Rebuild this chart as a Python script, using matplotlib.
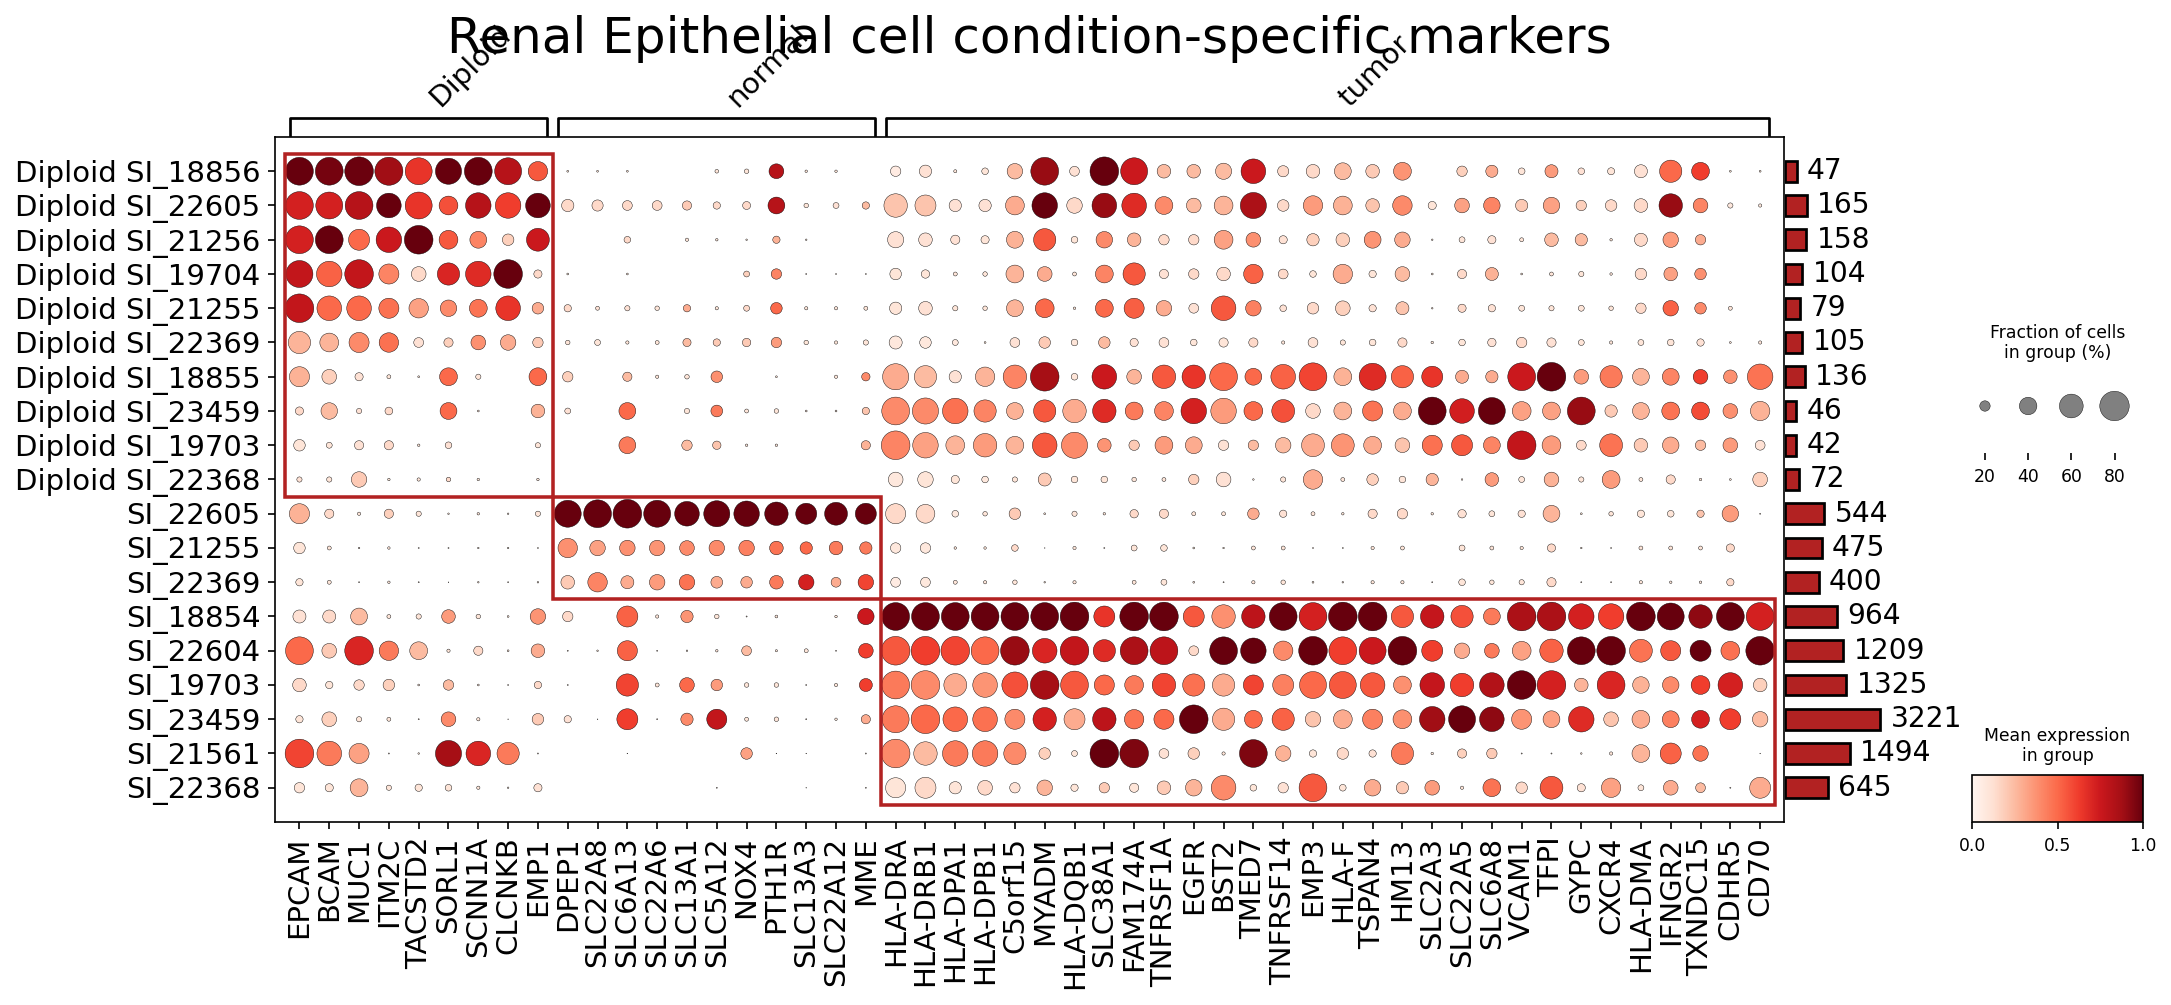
import numpy as np
import matplotlib
matplotlib.use("Agg")
import matplotlib.pyplot as plt
from matplotlib.patches import Rectangle
from matplotlib.colors import Normalize
from matplotlib import cm

# ---------------- data ----------------
title = "Renal Epithelial cell condition-specific markers"

genes = ['EPCAM', 'BCAM', 'MUC1', 'ITM2C', 'TACSTD2', 'SORL1', 'SCNN1A', 'CLCNKB', 'EMP1',
         'DPEP1', 'SLC22A8', 'SLC6A13', 'SLC22A6', 'SLC13A1', 'SLC5A12', 'NOX4', 'PTH1R',
         'SLC13A3', 'SLC22A12', 'MME',
         'HLA-DRA', 'HLA-DRB1', 'HLA-DPA1', 'HLA-DPB1', 'C5orf15', 'MYADM', 'HLA-DQB1',
         'SLC38A1', 'FAM174A', 'TNFRSF1A', 'EGFR', 'BST2', 'TMED7', 'TNFRSF14', 'EMP3',
         'HLA-F', 'TSPAN4', 'HM13', 'SLC2A3', 'SLC22A5', 'SLC6A8', 'VCAM1', 'TFPI', 'GYPC',
         'CXCR4', 'HLA-DMA', 'IFNGR2', 'TXNDC15', 'CDHR5', 'CD70']

groups = ['Diploid SI_18856', 'Diploid SI_22605', 'Diploid SI_21256', 'Diploid SI_19704',
          'Diploid SI_21255', 'Diploid SI_22369', 'Diploid SI_18855', 'Diploid SI_23459',
          'Diploid SI_19703', 'Diploid SI_22368', 'SI_22605', 'SI_21255', 'SI_22369',
          'SI_18854', 'SI_22604', 'SI_19703', 'SI_23459', 'SI_21561', 'SI_22368']

cell_counts = [47, 165, 158, 104, 79, 105, 136, 46, 42, 72, 544, 475, 400,
               964, 1209, 1325, 3221, 1494, 645]

gene_group_labels = ['Diploid', 'normal', 'tumor']
gene_group_spans = [(0, 8), (9, 19), (20, 49)]
highlight_rows = [(0, 9), (10, 12), (13, 18)]

# fraction of cells expressing (%)
frac_pct = [
    [74, 74, 77, 75, 71, 68, 74, 71, 46, 2, 2, 2, 0, 0, 5, 6.6, 32, 3, 3, 0,
     20, 25, 4, 11, 34, 74, 18.5, 77, 71, 28.6, 28.6, 36, 63, 22, 28.6, 38, 28.6, 41, 0, 20,
     24.5, 11, 27, 11, 12, 27, 55, 41, 2, 2],
    [74, 71, 74, 63, 71, 44, 66, 66, 63, 25, 22, 18.5, 18.5, 17, 12.5, 14, 38, 6.6, 9.4, 12.5,
     59, 51, 25, 25, 44, 66, 34, 63, 63, 41, 31.7, 44, 68, 23, 46, 44, 28.6, 46, 14.5, 31.7,
     37, 25, 37, 20, 23, 28.6, 59, 31.7, 8, 4.3],
    [74, 74, 51, 66, 77, 44, 38, 23, 57, 0, 0, 11, 0, 4.3, 3, 1.6, 12.5, 1.6, 0, 0,
     36, 28.6, 17, 14.5, 38, 55, 11, 37, 28.6, 20, 20, 44, 31.7, 14.5, 25, 28.6, 38, 34, 1.6, 9.4,
     14.5, 5.5, 28.6, 25, 3, 27, 34, 20, 0, 0],
    [71, 66, 77, 48, 31.7, 55, 66, 77, 14.5, 2, 0, 2, 0, 0, 0, 9.4, 20, 1, 1, 1,
     23, 15, 5.5, 6.6, 41, 31.7, 5.5, 41, 55, 17, 20, 28.6, 46, 18.5, 11, 46, 12.5, 31.7, 2, 17,
     27, 2, 5.5, 8, 3, 23, 28.6, 23, 0, 0],
    [77, 63, 63, 48, 46, 37, 41, 63, 23, 12.5, 5.5, 8, 6.6, 12.5, 4.3, 9.4, 23, 4.3, 4.3, 5.5,
     25, 28.6, 8, 6.6, 38, 44, 3, 41, 48, 34, 18.5, 63, 34, 11, 23, 31.7, 12.5, 27, 1.6, 14.5,
     12.5, 9.4, 8, 9.4, 6.6, 20, 34, 23, 5.5, 0],
    [55, 44, 48, 46, 18.5, 17, 31.7, 34, 20, 6.6, 9.4, 4.3, 5.5, 14.5, 12.5, 15, 20, 6.6, 4.3, 8,
     27, 23, 9.4, 2, 18.5, 23, 11, 23, 14.5, 18.5, 11, 17, 17, 4.3, 18.5, 8, 11, 17, 3, 11,
     15, 20, 17, 9.4, 4.3, 9.4, 11, 12.5, 2, 4.3],
    [48, 31.7, 14.5, 5.5, 2, 41, 8, 0, 41, 20, 0, 17, 4.3, 6.6, 23, 0, 2, 0, 4.3, 15,
     68, 55, 25, 46, 59, 77, 11, 63, 31.7, 59, 59, 74, 38, 63, 74, 41, 71, 55, 51, 27,
     25, 74, 77, 31.7, 55, 38, 38, 31.7, 28.6, 66],
    [14.5, 37, 8, 13.5, 0, 38, 2, 0, 28.6, 9.4, 0, 38, 0, 8, 23.5, 5.5, 6.6, 2, 2, 12.5,
     74, 68, 66, 55, 38, 55, 59, 59, 41, 44, 66, 66, 44, 57, 31.7, 41, 48, 41, 74, 63,
     71, 44, 41, 74, 25, 38, 41, 41, 31.7, 46],
    [23, 9.4, 17, 17, 3, 11, 0, 0, 8, 0, 0, 38, 0, 20, 15, 3, 3, 0, 0, 17,
     77, 66, 44, 59, 41, 63, 68, 28.6, 20, 41, 38, 20, 20, 34, 57, 57, 41, 31.7, 48, 51,
     38, 77, 44, 18.5, 57, 28.6, 37, 20, 31.7, 18.5],
    [8, 8, 34, 3, 4.3, 6.6, 3, 0, 3, 0, 0, 0, 0, 0, 0, 0, 0, 0, 0, 0,
     31.7, 34, 14.5, 11, 8, 27, 11, 11, 6.6, 5.5, 20, 31.7, 1.6, 8, 46, 5.5, 23, 11, 25, 1.6,
     28.6, 9.4, 31.7, 8, 41, 5.5, 17, 3, 2, 31.7],
    [48, 17, 4.3, 17, 8, 1.6, 3, 1.6, 8, 71, 74, 77, 71, 63, 68, 66, 59, 51, 57, 51,
     48, 44, 11, 6.6, 23, 2, 8, 3, 15, 17, 5.5, 5.5, 23, 12.5, 5.5, 3, 17, 20, 3, 15,
     9.4, 12.5, 38, 2, 6.6, 12.5, 11, 12.5, 37, 1],
    [23, 5.5, 1.6, 3, 1, 1, 1.6, 1.6, 1, 46, 34, 34, 34, 31.7, 34, 34, 28.6, 25, 28.6, 25,
     20, 20, 3, 3, 11, 0.5, 4.3, 1, 9.4, 11, 2, 1.6, 5.5, 5.5, 1, 1, 4.3, 5.5, 0, 9.4,
     5.5, 4.3, 14.5, 1.6, 1, 5.5, 5.5, 5.5, 14.5, 0],
    [12.5, 5.5, 1, 3, 1, 0.5, 1.6, 1, 1.6, 28.6, 46, 27, 34, 34, 23.5, 23, 28.6, 34, 18.5, 34,
     18.5, 18.5, 5.5, 4.3, 6.6, 1.6, 4.3, 0, 5.5, 9.4, 2, 1, 4.3, 6.6, 2, 1.6, 4.3, 4.3, 1, 11,
     6.6, 8, 17, 1, 1, 4.3, 3, 3, 12.5, 0],
    [27, 27, 38, 5.5, 8, 28.6, 6.6, 2, 34, 20, 0, 51, 4.3, 25, 6.6, 1, 3.5, 0, 3, 37,
     74, 74, 74, 74, 74, 74, 77, 51, 77, 77, 51, 59, 59, 74, 74, 77, 77, 55, 59, 55,
     38, 77, 77, 66, 66, 77, 71, 59, 74, 74],
    [74, 31.7, 77, 46, 41, 4.3, 17, 2, 28.6, 1, 1.6, 48, 1, 1.6, 3, 18.5, 2.5, 5.5, 1, 31.7,
     77, 77, 77, 74, 77, 63, 77, 55, 74, 74, 18.5, 74, 66, 46, 77, 74, 71, 77, 51, 34,
     31.7, 44, 59, 74, 77, 57, 48, 51, 44, 77],
    [28.6, 12.5, 20, 23, 2, 20, 2, 1, 12.5, 1, 0, 55, 5.5, 31.7, 23, 6.6, 6.6, 1, 4.3, 27,
     74, 77, 57, 63, 68, 77, 74, 48, 44, 59, 55, 55, 48, 51, 71, 71, 63, 41, 63, 59,
     63, 77, 77, 28.6, 74, 37, 37, 44, 63, 28.6],
    [12.5, 31.7, 8, 5.5, 1, 31.7, 4.3, 0.5, 23, 12.5, 0.5, 51, 1, 25, 48, 5.5, 6.6, 1, 3, 17,
     71, 77, 63, 63, 48, 59, 51, 59, 46, 48, 77, 55, 41, 55, 34, 44, 48, 44, 66, 71,
     63, 48, 38, 66, 31.7, 41, 38, 41, 51, 34],
    [77, 63, 48, 1, 1.6, 68, 63, 55, 1, 0, 0, 0.5, 0, 0, 0, 23, 0.5, 0.5, 0, 1,
     77, 59, 66, 66, 55, 23, 9.4, 77, 77, 18.5, 23, 4.3, 74, 34, 12.5, 23, 12.5, 55, 3, 17,
     20, 1, 1, 1.6, 4.3, 41, 51, 34, 0, 0.5],
    [20, 14.5, 41, 8, 12.5, 11, 4.3, 1.6, 14.5, 0, 0, 0, 0, 0, 1, 0, 0, 0.5, 0, 1,
     48, 51, 25, 31.7, 20, 34, 12.5, 20, 17, 28.6, 37, 63, 11, 20, 74, 11, 37, 25, 31.7, 4.3,
     41, 23, 57, 14.5, 46, 9.4, 31.7, 18.5, 1, 51],
]

# scaled mean expression (0-1)
mean_expr = [
    [1.0, 0.97, 0.99, 0.88, 0.65, 1.0, 1.0, 0.82, 0.55, 0.1, 0.1, 0.1, 0, 0, 0.1, 0.1, 0.82, 0.1, 0.1, 0,
     0.06, 0.12, 0.1, 0.1, 0.25, 0.9, 0.12, 1.0, 0.75, 0.25, 0.25, 0.25, 0.75, 0.15, 0.15, 0.25, 0.2, 0.37, 0, 0.18,
     0.3, 0.1, 0.35, 0.12, 0.1, 0.12, 0.5, 0.62, 0.1, 0.1],
    [0.72, 0.72, 0.82, 1.0, 0.65, 0.57, 0.82, 0.62, 1.0, 0.15, 0.15, 0.15, 0.15, 0.2, 0.15, 0.15, 0.82, 0.1, 0.12, 0.25,
     0.22, 0.22, 0.12, 0.12, 0.3, 1.0, 0.15, 0.9, 0.68, 0.4, 0.25, 0.27, 0.85, 0.15, 0.35, 0.28, 0.22, 0.4, 0.1, 0.33,
     0.42, 0.2, 0.33, 0.18, 0.15, 0.15, 0.9, 0.42, 0.08, 0.08],
    [0.72, 1.0, 0.5, 0.75, 1.0, 0.55, 0.42, 0.18, 0.75, 0, 0, 0.15, 0, 0.1, 0.1, 0.1, 0.28, 0.1, 0, 0,
     0.12, 0.12, 0.12, 0.1, 0.28, 0.55, 0.1, 0.4, 0.27, 0.15, 0.15, 0.33, 0.38, 0.12, 0.18, 0.18, 0.37, 0.3, 0.1, 0.1,
     0.12, 0.1, 0.25, 0.25, 0.1, 0.15, 0.35, 0.3, 0, 0],
    [0.78, 0.52, 0.78, 0.42, 0.15, 0.7, 0.68, 1.0, 0.15, 0.1, 0, 0.1, 0, 0, 0, 0.18, 0.42, 0.1, 0.1, 0.1,
     0.1, 0.1, 0.1, 0.1, 0.27, 0.3, 0.1, 0.42, 0.55, 0.12, 0.15, 0.15, 0.52, 0.15, 0.1, 0.3, 0.1, 0.25, 0.1, 0.15,
     0.28, 0.1, 0.1, 0.1, 0.1, 0.15, 0.33, 0.38, 0, 0],
    [0.78, 0.5, 0.5, 0.48, 0.33, 0.4, 0.47, 0.65, 0.3, 0.15, 0.12, 0.12, 0.1, 0.3, 0.1, 0.15, 0.5, 0.1, 0.1, 0.1,
     0.1, 0.12, 0.1, 0.1, 0.27, 0.5, 0.1, 0.5, 0.53, 0.3, 0.12, 0.55, 0.43, 0.12, 0.15, 0.18, 0.12, 0.22, 0.1, 0.15,
     0.12, 0.1, 0.1, 0.1, 0.1, 0.15, 0.52, 0.4, 0.1, 0],
    [0.27, 0.27, 0.4, 0.48, 0.12, 0.18, 0.38, 0.3, 0.2, 0.1, 0.1, 0.1, 0.1, 0.25, 0.2, 0.2, 0.35, 0.1, 0.1, 0.1,
     0.08, 0.08, 0.08, 0.1, 0.12, 0.2, 0.1, 0.25, 0.12, 0.12, 0.1, 0.1, 0.15, 0.1, 0.12, 0.1, 0.1, 0.15, 0.1, 0.1,
     0.12, 0.15, 0.12, 0.1, 0.1, 0.1, 0.1, 0.12, 0.1, 0.1],
    [0.28, 0.18, 0.12, 0.1, 0.1, 0.5, 0.1, 0, 0.5, 0.18, 0, 0.25, 0.1, 0.1, 0.38, 0, 0.1, 0, 0.1, 0.4,
     0.3, 0.25, 0.12, 0.27, 0.42, 0.87, 0.1, 0.75, 0.27, 0.55, 0.65, 0.5, 0.5, 0.52, 0.6, 0.28, 0.68, 0.52, 0.65, 0.3,
     0.3, 0.75, 1.0, 0.35, 0.45, 0.27, 0.42, 0.62, 0.38, 0.47],
    [0.15, 0.25, 0.12, 0.15, 0, 0.5, 0.1, 0, 0.28, 0.12, 0, 0.5, 0, 0.1, 0.45, 0.1, 0.1, 0.1, 0.1, 0.22,
     0.4, 0.4, 0.48, 0.42, 0.28, 0.55, 0.3, 0.68, 0.45, 0.42, 0.72, 0.35, 0.5, 0.57, 0.15, 0.27, 0.47, 0.3, 1.0, 0.73,
     1.0, 0.33, 0.33, 0.9, 0.2, 0.27, 0.47, 0.58, 0.38, 0.28],
    [0.1, 0.1, 0.12, 0.15, 0.1, 0.12, 0, 0, 0.1, 0, 0, 0.45, 0, 0.25, 0.22, 0.1, 0.1, 0, 0, 0.28,
     0.42, 0.33, 0.27, 0.35, 0.27, 0.55, 0.4, 0.37, 0.2, 0.35, 0.3, 0.12, 0.25, 0.25, 0.3, 0.37, 0.3, 0.22, 0.48, 0.55,
     0.42, 0.78, 0.35, 0.15, 0.47, 0.2, 0.3, 0.25, 0.35, 0.12],
    [0.12, 0.1, 0.2, 0.1, 0.1, 0.15, 0.1, 0, 0.1, 0, 0, 0, 0, 0, 0, 0, 0, 0, 0, 0,
     0.08, 0.1, 0.1, 0.08, 0.1, 0.2, 0.1, 0.1, 0.1, 0.1, 0.18, 0.12, 0.1, 0.1, 0.3, 0.1, 0.18, 0.1, 0.27, 0.1,
     0.35, 0.1, 0.28, 0.1, 0.35, 0.1, 0.15, 0.1, 0.1, 0.18],
    [0.28, 0.15, 0.1, 0.18, 0.1, 0.1, 0.1, 0.1, 0.1, 1.0, 1.0, 1.0, 1.0, 1.0, 1.0, 1.0, 1.0, 1.0, 1.0, 1.0,
     0.15, 0.15, 0.08, 0.1, 0.2, 0.1, 0.1, 0.1, 0.15, 0.15, 0.1, 0.1, 0.3, 0.12, 0.1, 0.1, 0.15, 0.15, 0.1, 0.12,
     0.1, 0.12, 0.27, 0.1, 0.1, 0.1, 0.1, 0.22, 0.35, 0.1],
    [0.1, 0.1, 0.1, 0.1, 0.1, 0.1, 0.1, 0.1, 0.1, 0.38, 0.33, 0.38, 0.37, 0.4, 0.4, 0.43, 0.47, 0.5, 0.45, 0.45,
     0.08, 0.08, 0.1, 0.1, 0.15, 0.1, 0.1, 0.1, 0.1, 0.1, 0.1, 0.1, 0.1, 0.1, 0.1, 0.1, 0.1, 0.1, 0, 0.1,
     0.1, 0.1, 0.15, 0.1, 0.1, 0.1, 0.1, 0.1, 0.15, 0],
    [0.1, 0.1, 0.1, 0.1, 0.1, 0.1, 0.1, 0.1, 0.1, 0.2, 0.42, 0.3, 0.35, 0.47, 0.3, 0.3, 0.45, 0.72, 0.3, 0.6,
     0.06, 0.08, 0.1, 0.1, 0.1, 0.1, 0.1, 0, 0.1, 0.1, 0.1, 0.1, 0.1, 0.1, 0.1, 0.1, 0.1, 0.1, 0.1, 0.1,
     0.1, 0.1, 0.15, 0.1, 0.1, 0.1, 0.1, 0.1, 0.15, 0],
    [0.12, 0.15, 0.25, 0.1, 0.1, 0.35, 0.1, 0.1, 0.37, 0.15, 0, 0.52, 0.1, 0.37, 0.1, 0.1, 0.1, 0, 0.1, 0.75,
     1.0, 1.0, 1.0, 1.0, 1.0, 1.0, 1.0, 0.65, 1.0, 1.0, 0.55, 0.38, 0.8, 1.0, 0.72, 1.0, 1.0, 0.55, 0.77, 0.57,
     0.45, 0.85, 0.85, 0.72, 0.62, 1.0, 1.0, 0.92, 1.0, 0.72],
    [0.5, 0.2, 0.7, 0.45, 0.25, 0.1, 0.15, 0.1, 0.3, 0.1, 0.1, 0.52, 0.1, 0.1, 0.1, 0.25, 0.1, 0.1, 0.1, 0.62,
     0.55, 0.62, 0.6, 0.5, 0.9, 0.7, 0.78, 0.68, 0.85, 0.8, 0.15, 1.0, 1.0, 0.4, 1.0, 0.62, 0.75, 1.0, 0.62, 0.3,
     0.45, 0.33, 0.52, 1.0, 1.0, 0.47, 0.55, 1.0, 0.48, 1.0],
    [0.15, 0.1, 0.15, 0.18, 0.1, 0.25, 0.1, 0.1, 0.15, 0.1, 0, 0.6, 0.1, 0.5, 0.35, 0.1, 0.1, 0.1, 0.1, 0.62,
     0.45, 0.4, 0.3, 0.37, 0.57, 0.87, 0.55, 0.5, 0.45, 0.6, 0.48, 0.3, 0.6, 0.43, 0.5, 0.55, 0.55, 0.38, 0.77, 0.62,
     0.83, 1.0, 0.72, 0.27, 0.7, 0.28, 0.4, 0.62, 0.72, 0.18],
    [0.1, 0.18, 0.1, 0.1, 0.1, 0.4, 0.1, 0.1, 0.2, 0.12, 0.1, 0.62, 0.1, 0.4, 0.78, 0.1, 0.1, 0.1, 0.1, 0.3,
     0.45, 0.5, 0.5, 0.48, 0.4, 0.72, 0.3, 0.8, 0.47, 0.5, 1.0, 0.3, 0.5, 0.52, 0.22, 0.3, 0.43, 0.38, 0.88, 1.0,
     0.92, 0.37, 0.33, 0.68, 0.22, 0.3, 0.43, 0.72, 0.62, 0.25],
    [0.6, 0.45, 0.33, 0.1, 0.1, 0.87, 0.7, 0.45, 0.1, 0, 0, 0.1, 0, 0, 0, 0.33, 0.1, 0.1, 0, 0.1,
     0.4, 0.25, 0.45, 0.45, 0.4, 0.18, 0.1, 1.0, 0.95, 0.12, 0.18, 0.1, 0.95, 0.28, 0.1, 0.15, 0.12, 0.45, 0.1, 0.18,
     0.2, 0.1, 0.1, 0.1, 0.1, 0.27, 0.52, 0.47, 0, 0.1],
    [0.1, 0.1, 0.27, 0.1, 0.1, 0.1, 0.1, 0.1, 0.12, 0, 0, 0, 0, 0, 0.1, 0, 0, 0.1, 0, 0.1,
     0.1, 0.15, 0.1, 0.15, 0.12, 0.27, 0.1, 0.2, 0.1, 0.2, 0.27, 0.4, 0.1, 0.12, 0.55, 0.1, 0.3, 0.2, 0.35, 0.1,
     0.47, 0.15, 0.55, 0.12, 0.33, 0.1, 0.3, 0.25, 0.1, 0.3],
]

size_legend_values = [20, 40, 60, 80]
colorbar_ticks = [0.0, 0.5, 1.0]

# ---------------- layout ----------------
W, H = 2171, 1005
DPI = 150
fig = plt.figure(figsize=(W / DPI, H / DPI), dpi=DPI)


def add_ax(l, t, r, b):
    return fig.add_axes([l / W, 1 - b / H, (r - l) / W, (b - t) / H])


DOT_MAX = 0.8
LARGEST = 200.0
SIZE_EXP = 1.5
RED = '#b22222'

frac = np.array(frac_pct, dtype=float) / 100.0
expr = np.array(mean_expr, dtype=float)
nrows, ncols = frac.shape

# ---- main dot plot ----
ax = add_ax(275, 137, 1784, 822)
yy, xx = np.mgrid[0:nrows, 0:ncols]
sizes = (np.clip(frac, 0, DOT_MAX) / DOT_MAX) ** SIZE_EXP * LARGEST
ax.scatter(xx.ravel() + 0.5, yy.ravel() + 0.5, s=sizes.ravel(), c=expr.ravel(),
           cmap='Reds', vmin=0, vmax=1, edgecolors='black', linewidths=0.2, zorder=3)
ax.set_xlim(-0.32, ncols + 0.3)
ax.set_ylim(nrows + 0.5, -0.5)
ax.set_xticks(np.arange(ncols) + 0.5, genes, rotation=90, fontsize=14)
ax.set_yticks(np.arange(nrows) + 0.5, groups, fontsize=14)
ax.grid(False)
for (c0, c1), (r0, r1) in zip(gene_group_spans, highlight_rows):
    ax.add_patch(Rectangle((c0, r0), c1 - c0 + 1, r1 - r0 + 1, fill=False,
                           edgecolor=RED, linewidth=1.7, zorder=5, clip_on=False))

# ---- gene group brackets ----
gax = add_ax(275, 100, 1784, 137)
gax.set_xlim(ax.get_xlim())
gax.set_ylim(0, 1)
gax.axis('off')
y_top = (137 - 118) / 37
y_bot = (137 - 135) / 37
y_txt = (137 - 108) / 37
for label, (c0, c1) in zip(gene_group_labels, gene_group_spans):
    x0 = c0 + 0.5 - 0.31
    x1 = c1 + 0.5 + 0.31
    gax.plot([x0, x0, x1, x1], [y_bot, y_top, y_top, y_bot], color='black', lw=1.3,
             clip_on=False)
    xc = (c0 + c1) / 2 + 0.5
    gax.text(xc + 0.7, y_txt, label, rotation=45, rotation_mode='anchor',
             ha='left', va='baseline', fontsize=14, clip_on=False)

# ---- title ----
fig.text((275 + 1784) / 2 / W, 1 - 53 / H, title, ha='center', va='baseline', fontsize=24)

# ---- cell count bars ----
bax = add_ax(1785, 137, 1965, 822)
bax.set_xscale('function', functions=(lambda x: np.sqrt(np.clip(x, 0, None)), np.square))
ypos = np.arange(nrows) + 0.5
bax.barh(ypos, cell_counts, height=0.6, color=RED, edgecolor='black', linewidth=1.3)
bax.set_xlim(0, 11500)
bax.set_ylim(nrows + 0.5, -0.5)
bax.axis('off')
for y, n in zip(ypos, cell_counts):
    bax.annotate(str(n), (n, y), xytext=(5, 0), textcoords='offset points',
                 ha='left', va='center', fontsize=13.5, annotation_clip=False)

# ---- size legend ----
sax = add_ax(1972, 373, 2143, 453)
lv = np.array(size_legend_values) / 100.0
lsizes = (lv / DOT_MAX) ** SIZE_EXP * LARGEST
sax.scatter(np.arange(len(lv)) + 0.5, np.full(len(lv), 0.5875), s=lsizes, color='gray',
            edgecolor='black', linewidth=0.2, zorder=3)
sax.set_xlim(0.2, 4.16)
sax.set_ylim(0, 1)
sax.set_xticks(np.arange(len(lv)) + 0.5, [str(v) for v in size_legend_values], fontsize=8.3)
sax.tick_params(axis='y', left=False, labelleft=False)
for sp in sax.spines.values():
    sp.set_visible(False)
fig.text(2057.5 / W, 1 - 343 / H, "Fraction of cells\nin group (%)", ha='center',
         va='center', fontsize=8.3)

# ---- colorbar ----
cax = add_ax(1972, 775, 2143, 822)
sm = cm.ScalarMappable(norm=Normalize(0, 1), cmap='Reds')
cb = fig.colorbar(sm, cax=cax, orientation='horizontal')
cb.set_ticks(colorbar_ticks)
cb.ax.tick_params(labelsize=8.3)
fig.text(2057.5 / W, 1 - 746 / H, "Mean expression\nin group", ha='center', va='center',
         fontsize=8.3)

fig.savefig('out.png', dpi=DPI)
